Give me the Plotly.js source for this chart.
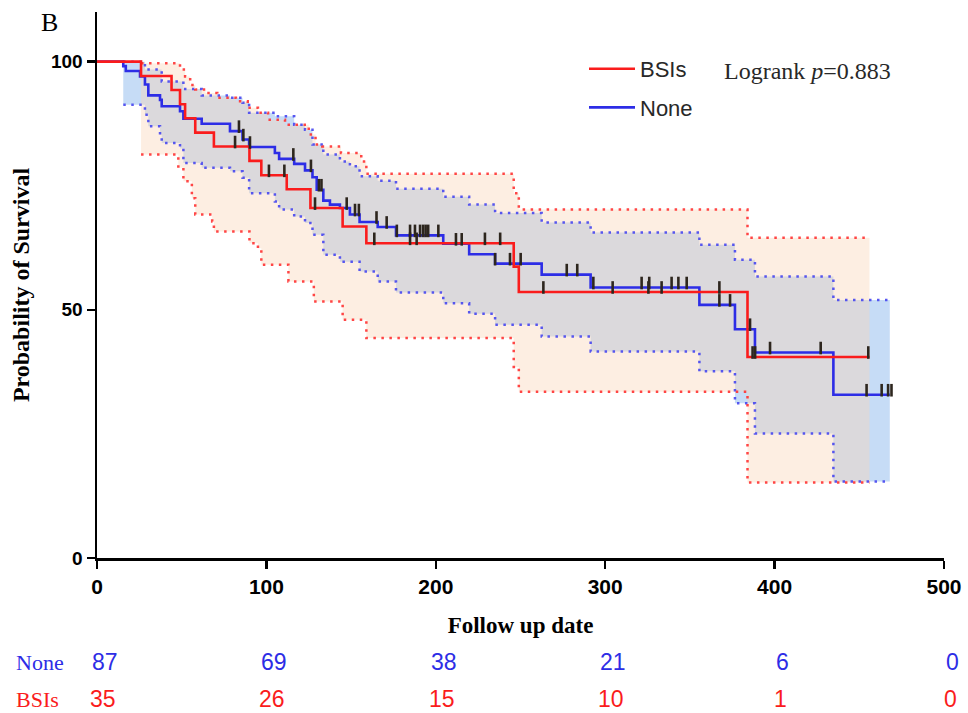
<!DOCTYPE html>
<html><head><meta charset="utf-8">
<script src="https://cdn.plot.ly/plotly-3.0.1.min.js"></script>
<style>html,body{margin:0;padding:0;background:#fff}#chart{width:968px;height:713px}</style>
</head><body><div id="chart"></div>
<script>
// ---------- BSIs (red) ----------
const bsiTimes = [0, 26, 44, 49, 52, 58, 69, 90, 97, 112, 126, 145, 159, 246, 249, 384, 456];
const bsiSurv  = [100, 97.1, 94.3, 91.4, 88.6, 85.7, 82.9, 80.0, 77.1, 74.3, 70.5, 66.8, 63.4, 58.7, 53.6, 40.5, 40.5];
const bsiUpperTimes = [26, 49, 52, 55, 58, 64, 71, 82, 89, 95, 101, 111, 125, 129, 133, 144, 156, 159, 246, 249, 384, 456];
const bsiUpper      = [99.7, 98.4, 97.0, 95.3, 94.4, 93.7, 92.7, 92.0, 90.7, 89.7, 88.3, 87.3, 85.3, 83.3, 82.9, 81.6, 79.9, 77.4, 73.5, 70.2, 64.5, 64.5];
const bsiLowerTimes = [26, 48, 51, 56, 58, 68, 69, 90, 95, 97, 113, 128, 145, 159, 246, 249, 384, 456];
const bsiLower      = [81.3, 78.6, 75.9, 72.5, 69.2, 67.8, 65.8, 63.4, 62.4, 59.1, 55.7, 51.7, 48.0, 44.3, 38.5, 33.5, 15.2, 15.2];
const bsiCensor = [81.5, 101.5, 110.6, 128.7, 163.7, 184.8, 188.7, 229, 238, 263.5, 304.4, 325.5, 333.3, 367.4, 387, 388.5, 455.3];

// ---------- None (blue) ----------
const noneTimes = [0, 15.5, 17, 25.4, 28.3, 30.3, 37.2, 38.2, 49, 51, 61.8, 78.5, 85.9, 89.8, 105, 107.5, 116.4, 122.8, 127.2, 129.7, 133.6, 137.5, 143.4, 149.3, 155, 165.7, 176.5, 204.4, 219.7, 235, 262.5, 291.4, 355.6, 376.6, 388.4, 434.7, 468];
const noneSurv  = [100, 99.1, 98.1, 97.0, 95.4, 93.2, 92.3, 91.0, 90.0, 88.5, 87.5, 86.0, 84.3, 82.8, 81.6, 80.4, 79.4, 78.1, 76.7, 74.2, 72.0, 71.2, 70.5, 69.2, 67.7, 66.7, 65.0, 63.3, 61.2, 59.3, 57.1, 54.5, 51.0, 46.1, 41.4, 32.9, 32.9];
const noneUpperTimes = [15.5, 28.3, 38.2, 51, 61.8, 78.5, 85.9, 89.8, 105, 116.4, 122.8, 127.2, 133.6, 143.4, 149.3, 155, 165.7, 176.5, 204.4, 219.7, 235, 262.5, 291.4, 355.6, 376.6, 388.4, 434.7, 468];
const noneUpper      = [100, 98.4, 96.0, 94.5, 93.2, 92.7, 91.7, 89.7, 89.0, 87.3, 86.3, 83.3, 81.3, 79.9, 78.9, 76.9, 76.0, 74.4, 72.8, 71.2, 69.5, 67.6, 65.6, 63.1, 60.1, 56.7, 52.0, 52.0];
const noneLowerTimes = [15.5, 28.3, 30.3, 37.2, 38.2, 49, 51, 61.8, 78.5, 85.9, 89.8, 105, 107.5, 116.4, 122.8, 127.2, 133.6, 143.4, 155, 165.7, 176.5, 204.4, 219.7, 235, 262.5, 291.4, 355.6, 376.6, 388.4, 434.7, 468];
const noneLower      = [91.3, 89.3, 87.0, 85.3, 83.6, 82.5, 79.6, 78.6, 77.9, 76.6, 73.5, 71.8, 70.2, 68.8, 67.5, 65.1, 61.1, 59.7, 57.7, 55.7, 53.5, 51.3, 49.2, 47.0, 44.6, 41.6, 37.6, 31.2, 25.1, 15.4, 15.4];
const noneCensor = [83.8, 86.4, 90.3, 115.9, 126.3, 131, 132.5, 147.4, 152.3, 154.6, 165, 171, 177, 184.8, 187.7, 190.7, 192.5, 194, 195.5, 201.5, 211.9, 215.3, 235, 243.8, 250.1, 277.3, 283.5, 293, 321.5, 326, 339.2, 343.2, 348.1, 367.4, 373.7, 385.5, 397.3, 427.2, 454.3, 463.2, 467, 469];

// ---------- Number at risk ----------
const riskTicks = [0, 100, 200, 300, 400, 500];
const riskNone  = [87, 69, 38, 21, 6, 0];
const riskBSIs  = [35, 26, 15, 10, 1, 0];
const xTicks = [0, 100, 200, 300, 400, 500];
const yTicks = [0, 50, 100];

const RED = 'rgb(250,28,28)', BLUE = 'rgb(45,45,230)';
const RED_DOT = 'rgba(255,50,50,0.9)', BLUE_DOT = 'rgba(70,70,240,0.9)';
const SERIF = 'Liberation Serif, Times New Roman, serif';
const SANS = 'Liberation Sans, Arial, sans-serif';
const NARROW = 'Liberation Sans Narrow, Arial Narrow, ' + SANS;

function stepAt(times, vals, t) {
  let v = vals[0];
  for (let i = 0; i < times.length; i++) if (times[i] <= t) v = vals[i];
  return v;
}

const traces = [];
// blue band fill
traces.push({x: noneLowerTimes, y: noneLower, mode: 'lines', line: {shape: 'hv', width: 0}, showlegend: false, hoverinfo: 'skip'});
traces.push({x: noneUpperTimes, y: noneUpper, mode: 'lines', line: {shape: 'hv', width: 0}, fill: 'tonexty', fillcolor: 'rgb(198,220,246)', showlegend: false, hoverinfo: 'skip'});
// red band fill (translucent peach)
traces.push({x: bsiLowerTimes, y: bsiLower, mode: 'lines', line: {shape: 'hv', width: 0}, showlegend: false, hoverinfo: 'skip'});
traces.push({x: bsiUpperTimes, y: bsiUpper, mode: 'lines', line: {shape: 'hv', width: 0}, fill: 'tonexty', fillcolor: 'rgba(250,212,182,0.4)', showlegend: false, hoverinfo: 'skip'});
// dotted CI borders
const dotted = (x, y, c) => ({x, y, mode: 'lines', line: {shape: 'hv', width: 2.5, color: c, dash: '2.5px,5.5px'}, showlegend: false, hoverinfo: 'skip'});
traces.push(dotted(noneUpperTimes, noneUpper, BLUE_DOT));
traces.push(dotted(noneLowerTimes, noneLower, BLUE_DOT));
traces.push(dotted(bsiUpperTimes, bsiUpper, RED_DOT));
traces.push(dotted(bsiLowerTimes, bsiLower, RED_DOT));
// survival curves
traces.push({x: noneTimes, y: noneSurv, mode: 'lines', name: 'None', line: {shape: 'hv', width: 2.6, color: BLUE}, legendgroup: 'b', legendrank: 2});
traces.push({x: bsiTimes, y: bsiSurv, mode: 'lines', name: 'BSIs', line: {shape: 'hv', width: 2.6, color: RED}, legendgroup: 'a', legendrank: 1});
// censor ticks
const tickMarker = {symbol: 'line-ns', size: 9, line: {width: 2.6, color: 'rgb(45,38,30)'}};
traces.push({x: noneCensor, y: noneCensor.map(t => stepAt(noneTimes, noneSurv, t) + 0.9), mode: 'markers', marker: tickMarker, showlegend: false, hoverinfo: 'skip'});
traces.push({x: bsiCensor, y: bsiCensor.map(t => stepAt(bsiTimes, bsiSurv, t) + 0.9), mode: 'markers', marker: tickMarker, showlegend: false, hoverinfo: 'skip'});

const M = {l: 97, r: 24, t: 12, b: 155};
const plotH = 713 - M.t - M.b, plotW = 968 - M.l - M.r;
const py = px => (713 - M.b - px) / plotH;   // pixel row -> paper y
const pxX = px => (px - M.l) / plotW;        // pixel col -> paper x

const annotations = [];
annotations.push({xref: 'paper', yref: 'paper', x: pxX(14), y: py(662), xanchor: 'left', yanchor: 'middle', text: 'None', showarrow: false, font: {family: SERIF, size: 22, color: BLUE}});
annotations.push({xref: 'paper', yref: 'paper', x: pxX(14), y: py(699), xanchor: 'left', yanchor: 'middle', text: 'BSIs', showarrow: false, font: {family: SERIF, size: 22, color: RED}});
riskTicks.forEach((t, i) => {
  annotations.push({xref: 'x', yref: 'paper', x: t, y: py(662), xanchor: 'center', yanchor: 'middle', xshift: 8, text: String(riskNone[i]), showarrow: false, font: {family: NARROW, size: 23, color: BLUE}});
  annotations.push({xref: 'x', yref: 'paper', x: t, y: py(699), xanchor: 'center', yanchor: 'middle', xshift: 6, text: String(riskBSIs[i]), showarrow: false, font: {family: NARROW, size: 23, color: RED}});
});
annotations.push({xref: 'paper', yref: 'paper', x: pxX(49), y: py(22), xanchor: 'center', yanchor: 'middle', text: 'B', showarrow: false, font: {family: SERIF, size: 26, color: 'black'}});
annotations.push({xref: 'paper', yref: 'paper', x: pxX(722), y: py(71), xanchor: 'left', yanchor: 'middle', text: 'Logrank <i>p</i>=0.883', showarrow: false, font: {family: SERIF, size: 24, color: 'rgb(40,40,40)'}});

const layout = {
  width: 968, height: 713, margin: M,
  paper_bgcolor: 'white', plot_bgcolor: 'white',
  xaxis: {range: [0, 500], tickvals: xTicks, ticktext: xTicks.map(String), ticks: 'outside', ticklen: 8, tickwidth: 2.5, tickcolor: 'black',
    showline: true, linewidth: 2.5, linecolor: 'black', showgrid: false, zeroline: false,
    tickfont: {family: NARROW, size: 21, weight: 'bold', color: 'black'},
    title: {text: 'Follow up date', font: {family: SERIF, size: 23, weight: 'bold', color: 'black'}, standoff: 20}},
  yaxis: {range: [0, 110], tickvals: yTicks, ticktext: yTicks.map(String), ticks: 'outside', ticklen: 8, tickwidth: 2.5, tickcolor: 'black',
    showline: true, linewidth: 2.5, linecolor: 'black', showgrid: false, zeroline: false,
    tickfont: {family: SANS, size: 19, weight: 'bold', color: 'black'},
    title: {text: 'Probability of Survival', font: {family: SERIF, size: 24, weight: 'bold', color: 'black'}, standoff: 15}},
  legend: {x: pxX(584), y: py(48), xanchor: 'left', yanchor: 'top', bgcolor: 'rgba(0,0,0,0)', traceorder: 'grouped', tracegroupgap: 7,
    itemwidth: 46, font: {family: SANS, size: 22, color: 'rgb(40,40,40)'}},
  showlegend: true,
  annotations
};
Plotly.newPlot('chart', traces, layout, {staticPlot: true});
</script></body></html>
